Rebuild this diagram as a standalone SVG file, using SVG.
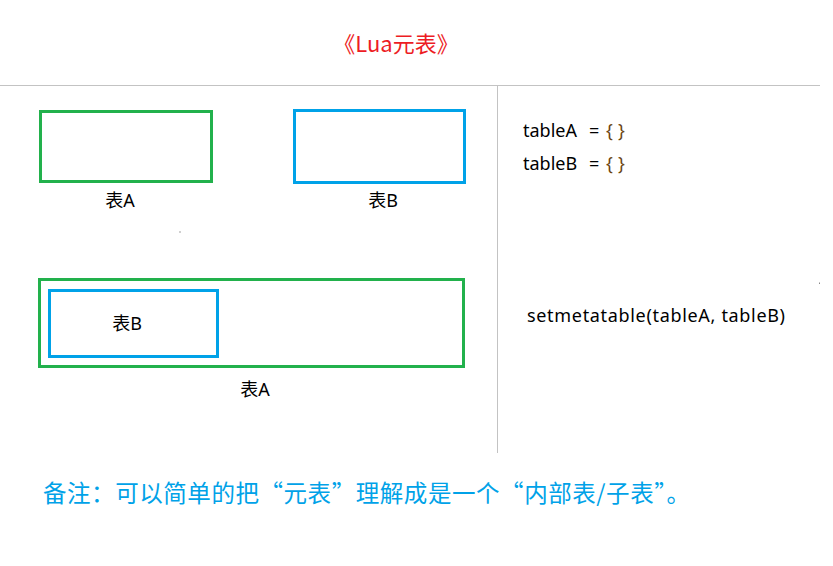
<svg xmlns="http://www.w3.org/2000/svg" width="833" height="566" viewBox="0 0 833 566">
<style>
.g{fill:none;stroke:#22b14c;stroke-width:3}
.b{fill:none;stroke:#00a2e8;stroke-width:3}
.sep{stroke:#c3c3c3;stroke-width:1}
.lbl{font-family:"Noto Sans","Noto Sans CJK SC",sans-serif;font-size:18px;fill:#000;text-anchor:middle}
.code{font-family:"Noto Sans","Noto Sans CJK SC",sans-serif;font-size:18px;fill:#000}
.br{fill:#6b4512}
.title{font-family:"Noto Sans CJK SC",sans-serif;font-size:22px;fill:#ed1c24;text-anchor:middle}
.note{font-family:"Noto Sans CJK SC",sans-serif;font-size:23.5px;fill:#00a2e8}
</style>
<rect width="833" height="566" fill="#fff"/>
<text class="title" x="396" y="52">《Lua元表》</text>
<g id="separators">
<line class="sep" x1="0" y1="85.5" x2="820" y2="85.5"/>
<line class="sep" x1="497.5" y1="86" x2="497.5" y2="453"/>
</g>
<g id="tableA">
<rect class="g" x="40.5" y="111.5" width="171" height="70"/>
<text class="lbl" x="120" y="207">表A</text>
</g>
<g id="tableB">
<rect class="b" x="294.5" y="110.5" width="170" height="72"/>
<text class="lbl" x="383" y="207">表B</text>
</g>
<g id="tableA-outer">
<rect class="g" x="39.5" y="279.5" width="424" height="87"/>
<text class="lbl" x="255" y="396">表A</text>
</g>
<g id="tableB-inner">
<rect class="b" x="49.5" y="290.5" width="168" height="66"/>
<text class="lbl" x="127" y="330">表B</text>
</g>
<g id="connectors"></g>
<rect x="179.5" y="231.5" width="1" height="1" fill="#444"/>
<rect x="819" y="282.5" width="1" height="1.5" fill="#888"/>
<g id="code">
<text class="code" y="137"><tspan x="523">tableA</tspan><tspan x="589">=</tspan><tspan class="br" x="606">{</tspan><tspan class="br" x="618">}</tspan></text>
<text class="code" y="170"><tspan x="523">tableB</tspan><tspan x="589">=</tspan><tspan class="br" x="606">{</tspan><tspan class="br" x="618">}</tspan></text>
<text class="code" x="527" y="322" textLength="258" lengthAdjust="spacing">setmetatable(tableA, tableB)</text>
</g>
<text class="note" x="43" y="502" textLength="647" lengthAdjust="spacing">备注：可以简单的把“元表”理解成是一个“内部表/子表”。</text>
</svg>
